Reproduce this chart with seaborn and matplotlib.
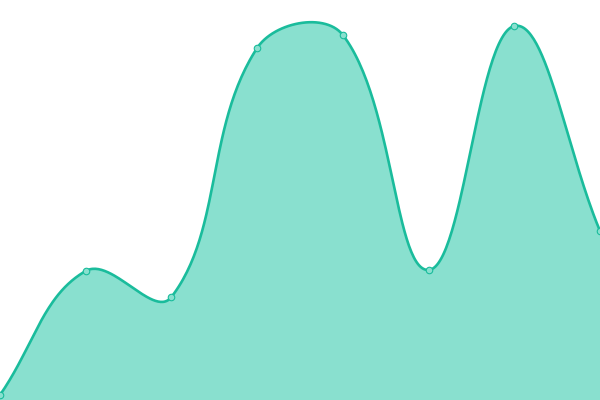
import numpy as np
import pandas as pd
import seaborn as sns
import matplotlib
matplotlib.use("Agg")
import matplotlib.pyplot as plt

# 数据：8个点（值按图中像素读出，坐标轴 0-400）
labels = ["A", "B", "C", "D", "E", "F", "G", "H"]
values = [5, 129, 103, 352, 365, 130, 374, 169]

line_color = "#1abc9c"
fill_color = "#89e0cf"

W, H = 600, 400
y_max = 400
tension = 0.4

x = np.arange(len(values), dtype=float)
y = np.array(values, dtype=float)

# 像素空间里做 Chart.js 风格的样条
sx = W / (len(values) - 1)
sy = H / y_max
px, py = x * sx, y * sy
n = len(px)
cp_prev = np.zeros((n, 2))
cp_next = np.zeros((n, 2))
for i in range(n):
    p0 = np.array([px[max(i - 1, 0)], py[max(i - 1, 0)]])
    p1 = np.array([px[i], py[i]])
    p2 = np.array([px[min(i + 1, n - 1)], py[min(i + 1, n - 1)]])
    d01 = np.hypot(*(p1 - p0))
    d12 = np.hypot(*(p2 - p1))
    tot = d01 + d12
    s01 = d01 / tot if tot else 0
    s12 = d12 / tot if tot else 0
    cp_prev[i] = p1 - tension * s01 * (p2 - p0)
    cp_next[i] = p1 + tension * s12 * (p2 - p0)

t = np.linspace(0, 1, 60)[:, None]
seg = []
for i in range(n - 1):
    a = np.array([px[i], py[i]])
    b = cp_next[i]
    c = cp_prev[i + 1]
    d = np.array([px[i + 1], py[i + 1]])
    pts = (1 - t) ** 3 * a + 3 * (1 - t) ** 2 * t * b + 3 * (1 - t) * t ** 2 * c + t ** 3 * d
    seg.append(pts if i == 0 else pts[1:])
curve = np.vstack(seg)
curve = np.clip(curve, [0, 0], [W, H])
df_curve = pd.DataFrame({"x": curve[:, 0] / sx, "y": curve[:, 1] / sy})
df_pts = pd.DataFrame({"x": x, "y": y, "label": labels})

sns.set_style("white")
fig = plt.figure(figsize=(6, 4), dpi=100)
ax = fig.add_axes([0, 0, 1, 1])
ax.fill_between(df_curve["x"], 0, df_curve["y"], color=fill_color, linewidth=0)
sns.lineplot(data=df_curve, x="x", y="y", sort=False, color=line_color,
             linewidth=1.9, ax=ax, zorder=3)
sns.scatterplot(data=df_pts, x="x", y="y", s=22, color=fill_color,
                edgecolor=line_color, linewidth=0.8, ax=ax, zorder=4, clip_on=False)
ax.set_xlim(0, len(values) - 1)
ax.set_ylim(0, y_max)
ax.axis("off")
fig.savefig("out.png", dpi=100)
